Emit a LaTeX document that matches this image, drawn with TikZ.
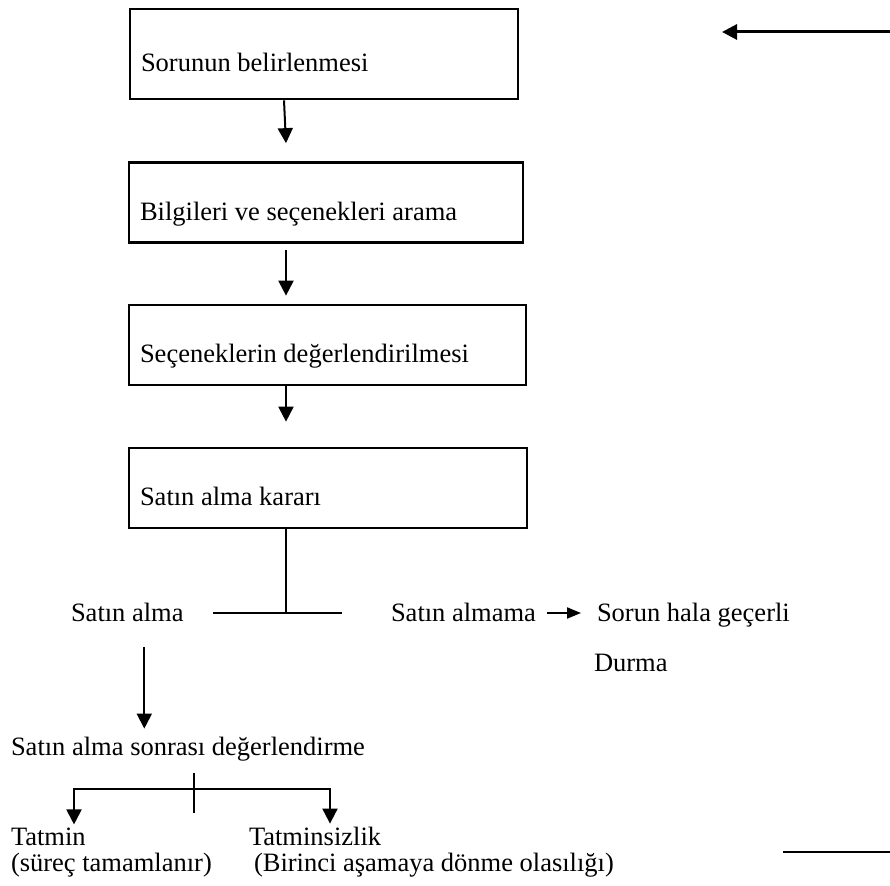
\documentclass[tikz,border=0pt]{standalone}
\usepackage{fontspec}
\setmainfont{Liberation Serif}
\usetikzlibrary{%
  positioning
 ,calc
 ,arrows.meta
}
\tikzstyle{akis}=[x=0.5pt,y=-0.5pt,line width=1pt,>={Triangle[length=7.5pt,width=7.5pt]},font=\fontsize{13.25}{13}\selectfont]
\tikzstyle{kutu}=[draw,line width=1.35pt,align=flush left,text width=186pt,inner xsep=5.5pt,inner ysep=0pt,text height=29pt,text depth=11pt]
\tikzstyle{yazi}=[inner sep=0pt,anchor=base west]
\tikzstyle{ok}=[->]

\begin{document}
\begin{tikzpicture}[akis]
      \useasboundingbox (0,0) rectangle (890,886);
      % kutular
      \node[kutu,text width=183pt,text height=31.5pt,text depth=13.5pt] (k1) at (324,54) {Sorunun belirlenmesi};
      \node[kutu] (k2) at (326,202.5) {Bilgileri ve seçenekleri arama};
      \node[kutu,text width=187.5pt] (k3) at (327.5,345) {Seçeneklerin değerlendirilmesi};
      \node[kutu,text width=188pt] (k4) at (328,488) {Satın alma kararı};
      \draw[ok] ([xshift=-20pt]k1.south) -- ([xshift=-20pt,yshift=9pt]k2.north);
      \draw[ok] ([xshift=-20pt,yshift=-3pt]k2.south) -- ([xshift=-20.75pt,yshift=4pt]k3.north);
      \draw[ok] ([xshift=-20.75pt]k3.south) -- ([xshift=-21pt,yshift=12.5pt]k4.north);
      % karar
      \coordinate (catal) at (286,613);
      \draw ([xshift=-21pt]k4.south) -- (catal);
      \draw ($(catal)+(-36.5pt,0)$) -- ($(catal)+(28pt,0)$);
      \node[yazi] (alma) at (70,622) {Satın alma};
      \node[yazi] (almama) at (390,622) {Satın almama};
      \node[yazi] (sorun) at (596,622) {Sorun hala geçerli};
      \node[yazi] (durma) at (593,672) {Durma};
      \draw[ok,>={Triangle[length=7pt,width=5.5pt]}] ([xshift=5pt,yshift=4.5pt]almama.base east) -- ([xshift=-7.5pt,yshift=4.5pt]sorun.base west);
      % satin alma sonrasi
      \node[yazi] (sonrasi) at (10,756) {Satın alma sonrası değerlendirme};
      \draw[ok] ($(alma.base)+(8.5pt,-12.5pt)$) -- ($(alma.base |- sonrasi.north)+(8.5pt,4pt)$);
      \node[yazi] (tatmin) at (10,846) {Tatmin};
      \node[yazi] (tamam) at (10,872) {(süreç tamamlanır)};
      \node[yazi] (tatminsiz) at (248,846) {Tatminsizlik};
      \node[yazi] (olasilik) at (253,872) {(Birinci aşamaya dönme olasılığı)};
      \coordinate (dal) at (194,789);
      \coordinate (dalsol) at (74,789);
      \coordinate (dalsag) at (330,789);
      \draw ($(sonrasi.south -| dal)+(0,-5pt)$) -- ($(dal)+(0,-12pt)$);
      \draw[ok] (dal) -- (dalsol) -- ($(dalsol |- tatmin.north)+(0,1.5pt)$);
      \draw[ok] (dal) -- (dalsag) -- ($(dalsag |- tatminsiz.north)+(0,1.5pt)$);
      % serbest cizgiler
      \coordinate (ust1) at (890,32);
      \coordinate (ust2) at (722,32);
      \draw[ok,line width=1.5pt] (ust1) -- (ust2);
      \coordinate (alt1) at (783,852);
      \coordinate (alt2) at (890,852);
      \draw (alt1) -- (alt2);
\end{tikzpicture}
\end{document}
